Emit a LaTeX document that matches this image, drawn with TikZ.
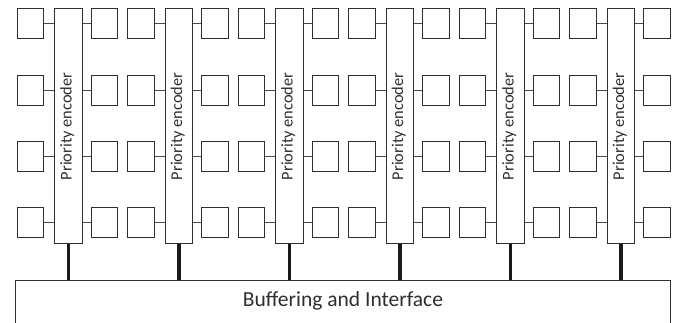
\documentclass[tikz,border=0pt]{standalone}
\usepackage{fontspec}
\setmainfont{Carlito}
\definecolor{boxline}{HTML}{2E2E2E}
\definecolor{wire}{HTML}{4A4A4A}
\definecolor{bar}{HTML}{1A1A1A}
\begin{document}
\begin{tikzpicture}[x=1pt,y=-1pt,
  cell/.style={draw=boxline,line width=1pt,inner sep=0pt,minimum width=26.6pt,minimum height=30pt,anchor=north west},
  encbox/.style={draw=boxline,line width=1pt,inner sep=0pt,minimum width=27.7pt,minimum height=235pt,anchor=north west},
  enclabel/.style={rotate=90,font=\fontsize{16.4}{19}\selectfont,text=boxline},
  wireline/.style={draw=wire,line width=0.8pt},
  barline/.style={draw=bar,line width=3.5pt},
  busbox/.style={draw=boxline,line width=1pt}]
\useasboundingbox (0,0) rectangle (680,322);
\clip (0,0) rectangle (680,322);
% bus box
\draw[busbox] (15,330) -- (15,280) -- (670,280) -- (670,330);
\node[font=\fontsize{21.5}{25}\selectfont,text=boxline] (bus) at (343,301) {Buffering and Interface};
\coordinate (busTop) at (342.5,280);
\foreach \k in {0,...,5}{
  \pgfmathsetmacro{\E}{54+110.5*\k}
  \node[encbox] (enc\k) at (\E,8.3) {};
  \node[enclabel] (lab\k) at ([xshift=-1pt]enc\k.center) {Priority encoder};
  \foreach \r in {0,...,3}{
    \pgfmathsetmacro{\Y}{8.3+66.3*\r}
    \node[cell] (L\k\r) at (\E-37.3,\Y) {};
    \node[cell] (R\k\r) at (\E+36.7,\Y) {};
    \draw[wireline] (L\k\r.east) -- (L\k\r.east -| enc\k.west);
    \draw[wireline] (R\k\r.west) -- (R\k\r.west -| enc\k.east);
  }
  \draw[barline] (enc\k.south) -- (enc\k.south |- busTop);
}
\end{tikzpicture}
\end{document}
